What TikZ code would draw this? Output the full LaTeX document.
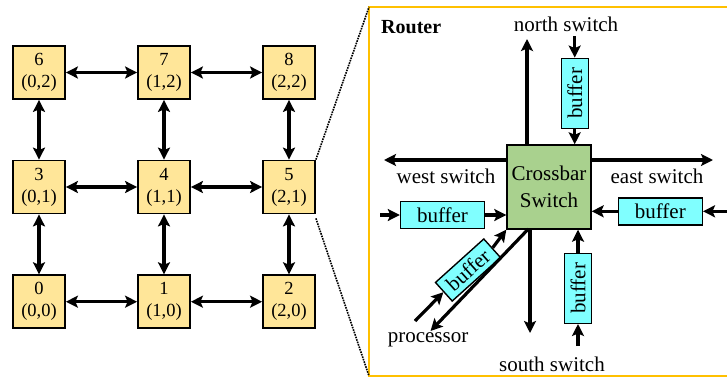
\documentclass[tikz,border=0pt]{standalone}
\usepackage{fontspec}
\setmainfont{Liberation Serif}
\usetikzlibrary{arrows.meta}
\definecolor{nodefill}{RGB}{255,230,153}
\definecolor{xbarfill}{RGB}{169,209,142}
\definecolor{buffill}{RGB}{128,255,255}
\definecolor{framegold}{RGB}{255,192,0}
\begin{document}
\begin{tikzpicture}[x=1pt,y=-1pt,
  tip/.tip={Stealth[length=12pt,width=12pt,inset=2.5pt]},
  gridnode/.style={draw, line width=1.8pt, fill=nodefill, minimum width=52pt,
    minimum height=53pt, inner sep=0pt, align=center,
    font=\fontsize{18.5}{22}\selectfont},
  link/.style={line width=3.4pt, tip-tip},
  flow/.style={line width=3.2pt, -tip},
  bufbox/.style={draw, line width=1.4pt, fill=buffill, inner sep=0pt,
    font=\fontsize{21}{24}\selectfont},
  hbuf/.style={bufbox, minimum width=84pt, minimum height=27pt},
  vbuf/.style={bufbox, minimum width=27pt, minimum height=70pt},
  lbl/.style={inner sep=0pt, font=\fontsize{21}{24}\selectfont},
]
\useasboundingbox (0,0) rectangle (727,381);
\clip (0,0) rectangle (727,381);

% 3x3 mesh of switches
\node[gridnode] (n6) at (39,72.5)  {6\\(0,2)};
\node[gridnode] (n7) at (164,72.5) {7\\(1,2)};
\node[gridnode] (n8) at (289,72.5) {8\\(2,2)};
\node[gridnode] (n3) at (39,187)   {3\\(0,1)};
\node[gridnode] (n4) at (164,187)  {4\\(1,1)};
\node[gridnode] (n5) at (289,187)  {5\\(2,1)};
\node[gridnode] (n0) at (39,301.7) {0\\(0,0)};
\node[gridnode] (n1) at (164,301.7){1\\(1,0)};
\node[gridnode] (n2) at (289,301.7){2\\(2,0)};

\foreach \a/\b in {n6/n7,n7/n8,n3/n4,n4/n5,n0/n1,n1/n2,
                   n6/n3,n3/n0,n7/n4,n4/n1,n8/n5,n5/n2}
  \draw[link] (\a) -- (\b);

% router frame (open to the right)
\coordinate (ftl) at (369,7);
\coordinate (fbl) at (369,376);
\draw[framegold, line width=2pt] (740,7) -- (ftl) -- (fbl) -- (740,376);

% zoom lines from switch 5 to the router frame
\draw[line width=1.6pt, densely dotted] (n5.north east) -- (ftl);
\draw[line width=1.6pt, densely dotted] ([yshift=-4pt]n5.south east) -- (fbl);

% router internals
\node[lbl, anchor=west, font=\fontsize{20}{24}\selectfont\bfseries] (router) at (381,27) {Router};

\node[draw, line width=1.4pt, fill=xbarfill, minimum size=84pt, inner sep=0pt,
  align=center, font=\fontsize{21}{27}\selectfont] (cb) at (549,187) {Crossbar\\Switch};

\node[vbuf] (nb) at (574.7,93.3) {\rotatebox{90}{buffer}};
\node[vbuf] (sb) at (578,288.3)  {\rotatebox{90}{buffer}};
\node[hbuf] (wb) at (442.5,215)  {buffer};
\node[hbuf] (eb) at (660.3,211.3){buffer};
\node[bufbox, minimum width=65pt, minimum height=25pt, rotate=42] (db) at (468,270) {buffer};

\node[lbl] (north) at (566,24)  {north switch};
\node[lbl] (west)  at (446,176) {west switch};
\node[lbl] (east)  at (657,176) {east switch};
\node[lbl] (south) at (552,364) {south switch};
\node[lbl] (proc)  at (428,340) {processor};

% free ends of the router ports
\coordinate (nIn)   at (574.7,36);
\coordinate (nOut)  at (527,39);
\coordinate (wOut)  at (384,160);
\coordinate (eOut)  at (713,160);
\coordinate (wIn)   at (380,215);
\coordinate (eIn)   at (735,211.3);
\coordinate (sIn)   at (578,346);
\coordinate (sOut)  at (530,333);
\coordinate (pIn)   at (415,321);
\coordinate (pOut)  at (430.5,331);

% outputs of the crossbar
\draw[flow] (cb.north -| nOut) -- (nOut);
\draw[flow] (cb.west |- wOut) -- (wOut);
\draw[flow] (cb.east |- eOut) -- (eOut);
\draw[flow] (cb.south -| sOut) -- (sOut);
\draw[flow] (528.3,229) -- (pOut);

% inputs through the buffers
\draw[flow] (nIn) -- (nb.north);
\draw[flow] (nb.south) -- (nb.south |- cb.north);
\draw[flow] (wIn) -- (wb.west);
\draw[flow] (wb.east) -- (cb.west |- wb.east);
\draw[flow] (eIn) -- (eb.east);
\draw[flow] (eb.west) -- (cb.east |- eb.west);
\draw[flow] (sIn) -- (sb.south);
\draw[flow] (sb.north) -- (sb.north |- cb.south);
\draw[flow] (pIn) -- (db.west);
\draw[flow] (db.east) -- (cb.south west);
\end{tikzpicture}
\end{document}
